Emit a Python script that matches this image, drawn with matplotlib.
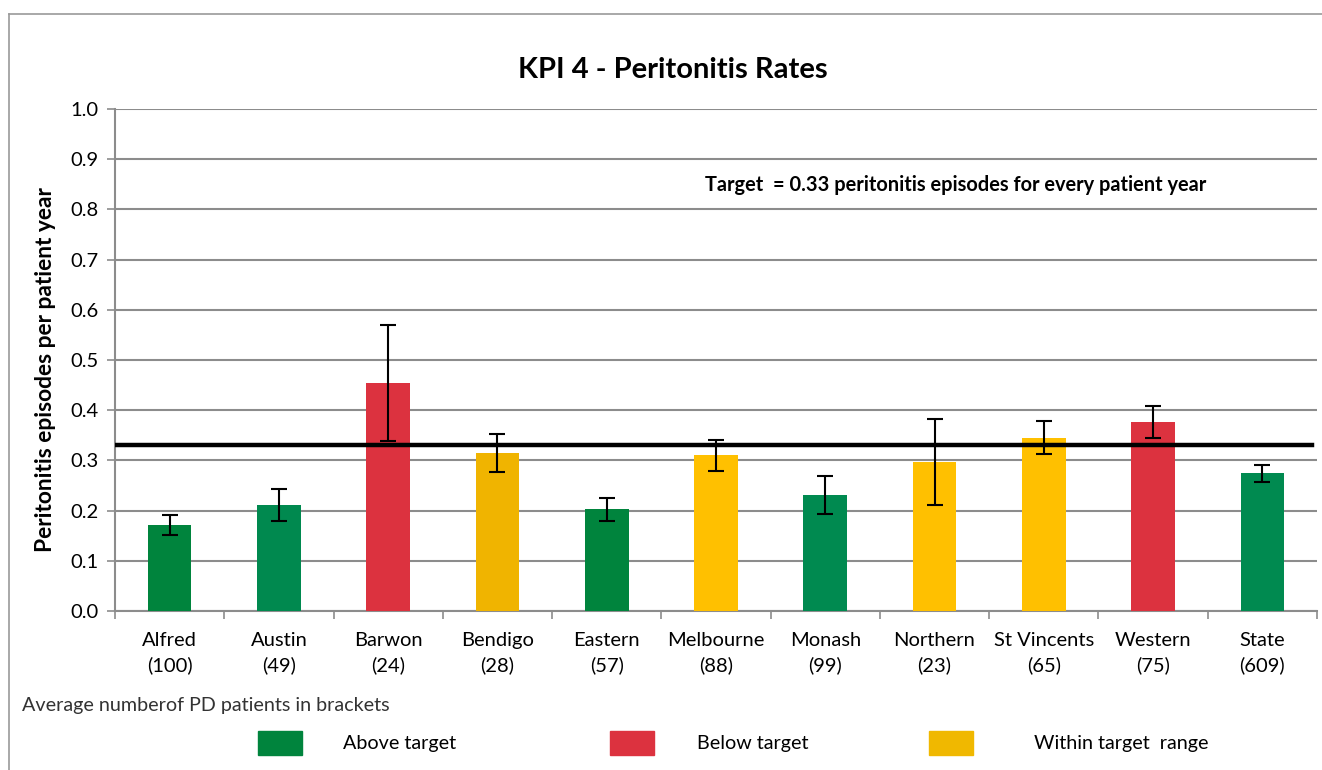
import matplotlib
matplotlib.use("Agg")
import matplotlib.pyplot as plt
from matplotlib.patches import Rectangle
from matplotlib.lines import Line2D

categories = ["Alfred", "Austin", "Barwon", "Bendigo", "Eastern", "Melbourne",
              "Monash", "Northern", "St Vincents", "Western", "State"]
patients = [100, 49, 24, 28, 57, 88, 99, 23, 65, 75, 609]
rates = [0.171, 0.211, 0.454, 0.315, 0.203, 0.311, 0.231, 0.297, 0.345, 0.376, 0.275]
err_low = [0.151, 0.179, 0.339, 0.277, 0.179, 0.278, 0.193, 0.212, 0.312, 0.344, 0.257]
err_high = [0.192, 0.243, 0.570, 0.352, 0.226, 0.341, 0.268, 0.382, 0.378, 0.409, 0.291]
status = ["above", "above", "below", "within", "above", "within",
          "above", "within", "within", "below", "above"]
target = 0.33

bar_colors = ["#00843D", "#00894F", "#DC323F", "#F0B400", "#00843D", "#FFC000",
              "#008A50", "#FFC000", "#FFC000", "#DC323F", "#008A50"]
legend_colors = {"above": "#00843D", "below": "#DC323F", "within": "#F0B800"}
legend_labels = {"above": "Above target", "below": "Below target", "within": "Within target  range"}

plt.rcParams['font.family'] = ['Lato', 'DejaVu Sans']

W, H = 1322, 770
fig = plt.figure(figsize=(W / 100, H / 100), dpi=100)

# outer chart frame
fig.add_artist(Line2D([9 / W, 9 / W], [0, 1 - 14 / H], transform=fig.transFigure,
                      color="#9a9a9a", lw=1.2))
fig.add_artist(Line2D([9 / W, 1], [1 - 14 / H, 1 - 14 / H], transform=fig.transFigure,
                      color="#9a9a9a", lw=1.2))

ax = fig.add_axes([115 / W, 1 - 611 / H, (1317 - 115) / W, (611 - 109) / H])
x = list(range(len(categories)))
yerr = [[r - lo for r, lo in zip(rates, err_low)], [hi - r for r, hi in zip(rates, err_high)]]
ax.bar(x, rates, width=0.4, color=bar_colors, zorder=3)
ax.errorbar(x, rates, yerr=yerr, fmt="none", ecolor="black", elinewidth=1.5,
            capsize=6, capthick=1.5, zorder=5)
ax.axhline(target, xmin=0.002, xmax=0.9955, color="black", lw=3.2, zorder=4)

ax.set_xlim(-0.5, len(categories) - 0.5)
ax.set_ylim(0, 1.0)
ax.set_yticks([i / 10 for i in range(11)])
ax.set_yticklabels([f"{i / 10:.1f}" for i in range(11)], fontsize=14.5)
ax.set_xticks(x)
ax.set_xticklabels([f"{c}\n({p})" for c, p in zip(categories, patients)],
                   fontsize=14.5, linespacing=1.5)
ax.set_xticks([i - 0.5 for i in range(len(categories) + 1)], minor=True)
ax.tick_params(axis="x", which="major", length=0, pad=15)
ax.tick_params(axis="x", which="minor", length=6, color="#8c8c8c", width=1.2)
ax.tick_params(axis="y", length=6, color="#8c8c8c", width=1.2, pad=6)
ax.grid(axis="y", color="#8c8c8c", lw=1.5, zorder=0)
ax.set_axisbelow(True)
for s in ["top", "right"]:
    ax.spines[s].set_visible(False)
for s in ["left", "bottom"]:
    ax.spines[s].set_color("#8c8c8c")
    ax.spines[s].set_linewidth(1.5)

ax.set_ylabel("Peritonitis episodes per patient year", fontsize=16.4,
              fontweight="bold")
ax.yaxis.set_label_coords(-0.049, 0.48)
fig.text(673 / W, 1 - 70 / H, "KPI 4 - Peritonitis Rates", ha="center", va="center",
         fontsize=21, fontweight="bold")
ax.text(0.491, 0.849, "Target  = 0.33 peritonitis episodes for every patient year",
        transform=ax.transAxes, ha="left", va="center", fontsize=14.4, fontweight="bold")

fig.text(22 / W, 1 - 706 / H, "Average numberof PD patients in brackets",
         ha="left", va="center", fontsize=14.2, color="#333333")

leg_items = [("above", 258, 343), ("below", 610, 697), ("within", 929, 1034)]
for key, sx, tx in leg_items:
    fig.add_artist(Rectangle((sx / W, 1 - 755 / H), 44 / W, 24 / H,
                             transform=fig.transFigure, color=legend_colors[key]))
    fig.text(tx / W, 1 - 743 / H, legend_labels[key], ha="left", va="center",
             fontsize=14.2)

fig.savefig("out.png", dpi=100)
